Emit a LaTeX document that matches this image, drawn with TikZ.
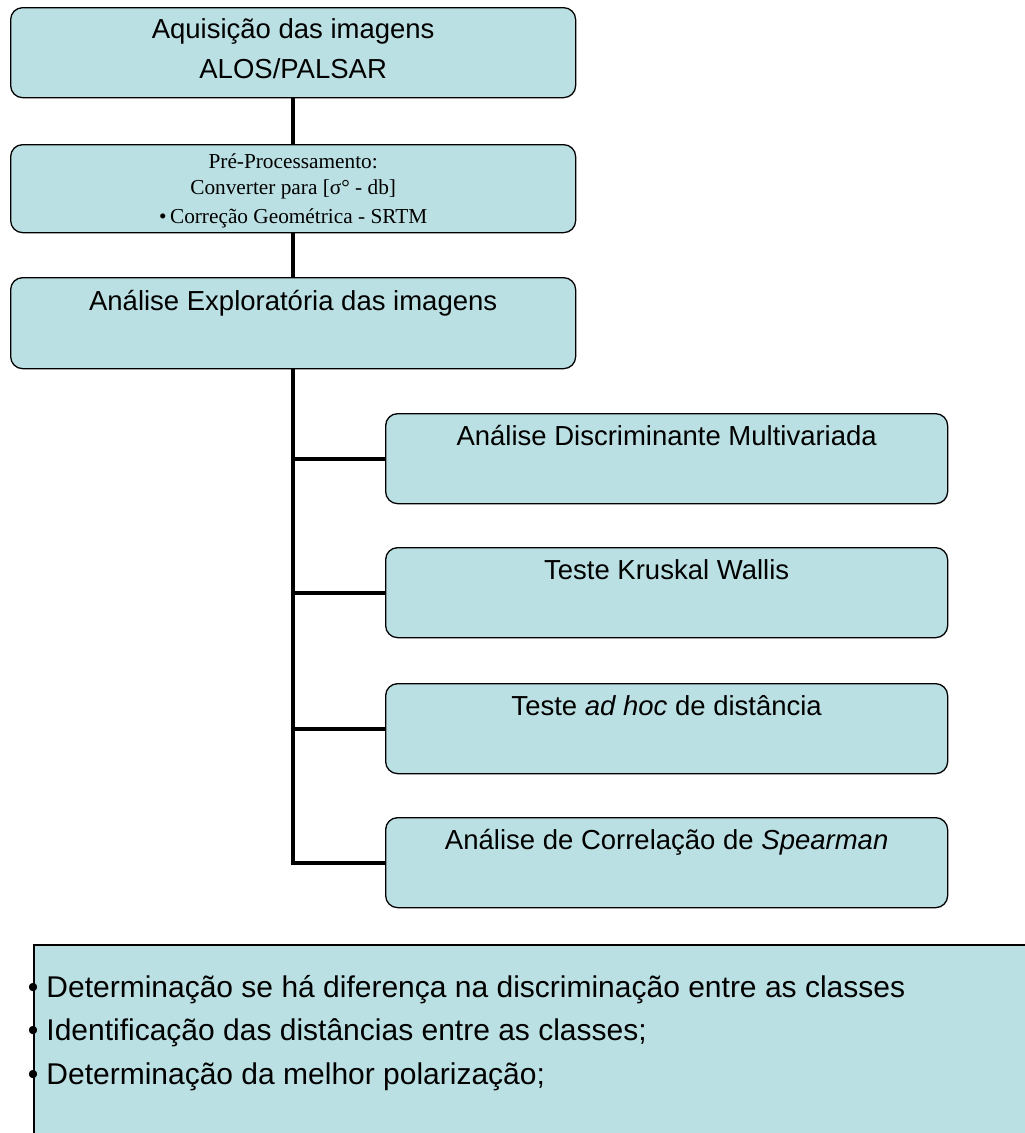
\documentclass[tikz,border=0pt]{standalone}
\usepackage{fontspec}
\setmainfont{Liberation Sans}
\newfontfamily\timesfont{Liberation Serif}
\usepackage{xcolor}
\usepackage{tikz}
\usetikzlibrary{positioning,calc}
\definecolor{boxfill}{RGB}{187,224,227}
\tikzset{
    stage/.style={draw=black, line width=1.3pt, fill=boxfill, rounded corners=12pt,
        anchor=north west, minimum width=565pt, minimum height=90pt, inner sep=0pt},
    test/.style={stage, minimum width=562pt},
    boxtext/.style={anchor=north, align=center, inner sep=0pt,
        font=\fontsize{27.5pt}{40pt}\selectfont},
    link/.style={line width=4pt}
}

\begin{document}
\begin{tikzpicture}[x=1pt,y=-1pt]
    \clip (0,0) rectangle (1025,1133);

    % Acquisition
    \node[stage] (aq) at (10,7) {};
    \node[boxtext] (aqt) at ([yshift=-11pt]aq.north)
        {Aquisição das imagens\\ALOS/PALSAR};

    % Pre-processing
    \node[stage, minimum height=88pt] (pre) at (10,144) {};
    \node[boxtext, font=\timesfont\fontsize{21.3pt}{26pt}\selectfont] (pret)
        at ([yshift=-9pt]pre.north)
        {Pré-Processamento:\\Converter para [σ° - db]\\[3pt]\textbullet\,Correção Geométrica - SRTM};

    % Exploratory analysis
    \node[stage, minimum height=91pt] (expl) at (10,277) {};
    \node[boxtext] (explt) at ([yshift=-13pt]expl.north)
        {Análise Exploratória das imagens};

    % Statistical tests
    \node[test] (adm) at (385,413) {};
    \node[boxtext] (admt) at ([yshift=-12pt]adm.north)
        {Análise Discriminante Multivariada};
    \node[test] (kw) at (385,547) {};
    \node[boxtext] (kwt) at ([yshift=-12pt]kw.north)
        {Teste Kruskal Wallis};
    \node[test] (adhoc) at (385,683) {};
    \node[boxtext] (adhoct) at ([yshift=-12pt]adhoc.north)
        {Teste \textit{ad hoc} de distância};
    \node[test] (spear) at (385,817) {};
    \node[boxtext] (speart) at ([yshift=-12pt]spear.north)
        {Análise de Correlação de \textit{Spearman}};

    % Trunk and branches
    \draw[link] (aq.south) -- (pre.north);
    \draw[link] (pre.south) -- (expl.south |- expl.north);
    \draw[link] (expl.south) |- (spear.west);
    \foreach \t in {adm, kw, adhoc}
        \draw[link] (\t.west -| expl.south) -- (\t.west);

    % Results
    \node[draw=black, line width=1.5pt, fill=boxfill, anchor=north west,
        minimum width=1010pt, minimum height=220pt, inner sep=0pt] (res) at (33,944) {};
    \node[boxtext, anchor=north west, align=left, font=\fontsize{30pt}{43.5pt}\selectfont] (rest)
        at ([xshift=-5.25pt, yshift=-31pt]res.north west)
        {\makebox[18.5pt][l]{\textbullet}Determinação se há diferença na discriminação entre as classes\\
         \makebox[18.5pt][l]{\textbullet}Identificação das distâncias entre as classes;\\
         \makebox[18.5pt][l]{\textbullet}Determinação da melhor polarização;};
\end{tikzpicture}
\end{document}
